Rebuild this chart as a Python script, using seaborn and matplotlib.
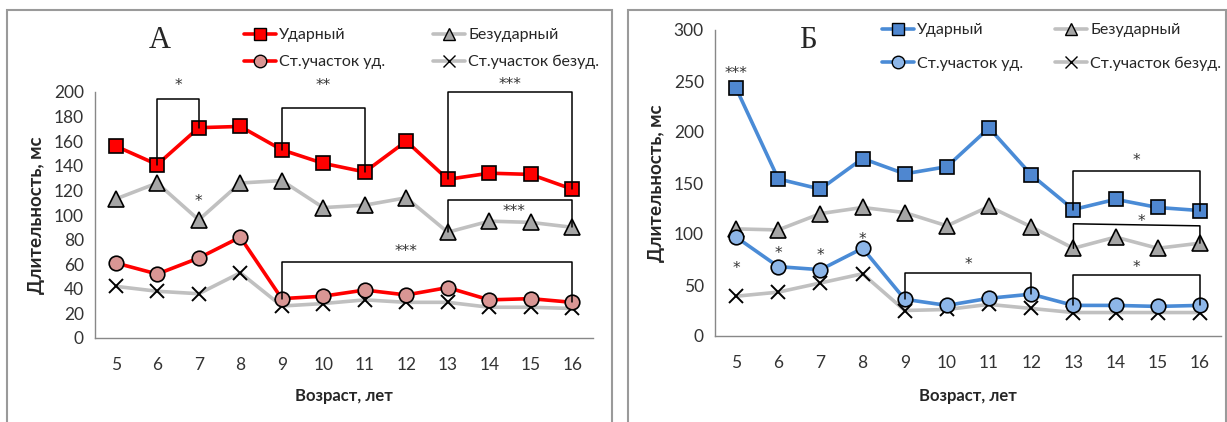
import numpy as np
import pandas as pd
import matplotlib
matplotlib.use("Agg")
import matplotlib.pyplot as plt
from matplotlib.patches import Rectangle
from matplotlib.lines import Line2D
import seaborn as sns

# ---------------- data ----------------
ages = [5, 6, 7, 8, 9, 10, 11, 12, 13, 14, 15, 16]
series_names = ["Ударный", "Безударный", "Ст.участок уд.", "Ст.участок безуд."]

a_udar = [156, 141, 171, 172, 153, 142, 135, 160, 129, 134, 133, 121]
a_bezudar = [113, 126, 96, 126, 128, 106, 108, 114, 86, 95, 94, 90]
a_st_ud = [61, 52, 65, 82, 32, 34, 39, 35, 41, 31, 32, 29]
a_st_bezud = [42, 38, 36, 53, 26, 28, 31, 29, 29, 25, 25, 24]

b_udar = [243, 154, 144, 174, 159, 166, 204, 158, 124, 134, 126, 123]
b_bezudar = [105, 104, 120, 126, 121, 108, 127, 107, 86, 97, 86, 91]
b_st_ud = [97, 68, 65, 86, 36, 30, 37, 41, 30, 30, 29, 30]
b_st_bezud = [39, 43, 52, 61, 25, 26, 31, 27, 23, 23, 23, 23]

panel_labels = ["А", "Б"]
x_label = "Возраст, лет"
y_label = "Длительность, мс"
a_yticks = [0, 20, 40, 60, 80, 100, 120, 140, 160, 180, 200]
b_yticks = [0, 50, 100, 150, 200, 250, 300]

# ---------------- style ----------------
sns.set_style("white")
plt.rcParams['font.family'] = ['Lato', 'DejaVu Sans']

fig = plt.figure(figsize=(12.27, 4.22), dpi=100)
W, H = 1227, 422

def fx(px):
    return px / W

def fy(py):
    return 1 - py / H

# panel frames
for x0, x1 in [(7, 612), (628, 1226)]:
    fig.patches.append(Rectangle((fx(x0), fy(430)), fx(x1) - fx(x0), fy(10) - fy(430),
                                 transform=fig.transFigure, fill=False,
                                 edgecolor="#9a9a9a", lw=1.5))

axA = fig.add_axes([fx(95), fy(338), fx(593) - fx(95), fy(92) - fy(338)])
axB = fig.add_axes([fx(715), fy(336), fx(1221) - fx(715), fy(30) - fy(336)])

GRAY_LINE = "#c0c0c0"
GRAY_FACE = "#a6a6a6"

def draw_panel(ax, data, main_color, sq_face, circ_face, ylim, yticks, ylab_x, xlab_y):
    udar, bezudar, st_ud, st_bezud = data
    df = pd.DataFrame({"age": ages, "udar": udar, "bezudar": bezudar,
                       "st_ud": st_ud, "st_bezud": st_bezud})
    sns.lineplot(data=df, x="age", y="st_bezud", ax=ax, color=GRAY_LINE, lw=2.6,
                 marker="x", markersize=10, markeredgecolor="black", mew=1.4, zorder=2)
    sns.lineplot(data=df, x="age", y="bezudar", ax=ax, color=GRAY_LINE, lw=2.6,
                 marker="^", markersize=11, markerfacecolor=GRAY_FACE,
                 markeredgecolor="black", mew=1.2, zorder=3)
    sns.lineplot(data=df, x="age", y="st_ud", ax=ax, color=main_color, lw=2.6,
                 marker="o", markersize=10.5, markerfacecolor=circ_face,
                 markeredgecolor="black", mew=1.2, zorder=4)
    sns.lineplot(data=df, x="age", y="udar", ax=ax, color=main_color, lw=2.6,
                 marker="s", markersize=10, markerfacecolor=sq_face,
                 markeredgecolor="black", mew=1.2, zorder=5)
    ax.set_xlim(4.5, 16.5)
    ax.set_ylim(*ylim)
    ax.set_yticks(yticks)
    ax.set_xticks(ages)
    ax.set_xticks(np.arange(4.5, 17, 1), minor=True)
    ax.tick_params(axis="x", which="major", length=0, pad=14, labelsize=12.5, labelcolor="#333333")
    ax.tick_params(axis="x", which="minor", length=5, color="#888888", direction="out")
    ax.tick_params(axis="y", length=5, color="#888888", direction="out", labelsize=12.5,
                   labelcolor="#333333", pad=3)
    for s in ["top", "right"]:
        ax.spines[s].set_visible(False)
    for s in ["left", "bottom"]:
        ax.spines[s].set_color("#888888")
        ax.spines[s].set_linewidth(1.0)
    ax.set_facecolor("none")
    ax.set_xlabel(x_label, fontsize=12, fontweight="bold")
    ax.set_ylabel(y_label, fontsize=13.5, fontweight="bold")
    ax.yaxis.set_label_coords(ylab_x, 0.5)
    ax.xaxis.set_label_coords(0.5, xlab_y)
    handles = [
        Line2D([], [], color=main_color, lw=2.6, marker="s", markersize=9,
               markerfacecolor=sq_face, markeredgecolor="black"),
        Line2D([], [], color=GRAY_LINE, lw=2.6, marker="^", markersize=9,
               markerfacecolor=GRAY_FACE, markeredgecolor="black"),
        Line2D([], [], color=main_color, lw=2.6, marker="o", markersize=9,
               markerfacecolor=circ_face, markeredgecolor="black"),
        Line2D([], [], color=GRAY_LINE, lw=2.6, marker="x", markersize=9,
               markeredgecolor="black"),
    ]
    return handles

def bracket(ax, x0, x1, y0, ytop0, ytop1, y1):
    ax.plot([x0, x0, x1, x1], [y0, ytop0, ytop1, y1], color="black", lw=1.1,
            clip_on=False, zorder=6)

def star(ax, x, y, s):
    ax.text(x, y, s, ha="center", va="center", fontsize=11, color="#333333",
            family="DejaVu Sans", clip_on=False, zorder=7)

hA = draw_panel(axA, (a_udar, a_bezudar, a_st_ud, a_st_bezud), "#ff0000", "#ff0000",
                "#d99694", (0, 200), a_yticks, -0.10, -0.205)
hB = draw_panel(axB, (b_udar, b_bezudar, b_st_ud, b_st_bezud), "#4a8bd6", "#4f87d0",
                "#8db6e8", (0, 300), b_yticks, -0.099, -0.17)

# legends (row-major order: matplotlib fills columns first)
order = [0, 2, 1, 3]
for h, anchor, cs, ls in [(hA, (fx(244), fy(28)), 3.0, 0.8),
                          (hB, (fx(882), fy(23)), 2.0, 1.2)]:
    fig.legend([h[i] for i in order], [series_names[i] for i in order], ncol=2,
               loc="upper left", bbox_to_anchor=anchor,
               frameon=False, fontsize=11.5, handlelength=2.0, handletextpad=0.2,
               columnspacing=cs, labelspacing=ls, borderaxespad=0, borderpad=0)

# panel letters
fig.text(fx(160), fy(40), panel_labels[0], fontsize=22, family="Liberation Serif",
         ha="center", va="center")
fig.text(fx(808), fy(40), panel_labels[1], fontsize=22, family="Liberation Serif",
         ha="center", va="center")

# annotations panel A
bracket(axA, 6, 7, a_udar[1], 194, 194, a_udar[2])
star(axA, 6.5, 205, "*")
bracket(axA, 9, 11, a_udar[4], 187, 187, a_udar[6])
star(axA, 10, 205, "**")
bracket(axA, 13, 16, a_udar[8], 200, 200, a_udar[11])
star(axA, 14.5, 206, "***")
bracket(axA, 13, 16, a_bezudar[8], 112, 112, a_bezudar[11])
star(axA, 14.6, 103, "***")
bracket(axA, 9, 16, a_st_ud[4], 62, 62, a_st_ud[11])
star(axA, 12, 70, "***")
star(axA, 7, 111, "*")

# annotations panel B
star(axB, 5, 257, "***")
star(axB, 5, 66, "*")
star(axB, 6, 81, "*")
star(axB, 7, 79, "*")
star(axB, 8, 95, "*")
bracket(axB, 9, 12, b_st_ud[4], 62, 62, b_st_ud[7])
star(axB, 10.5, 70, "*")
bracket(axB, 13, 16, b_udar[8], 162, 162, b_udar[11])
star(axB, 14.5, 172, "*")
bracket(axB, 13, 16, b_bezudar[8], 110, 108, b_bezudar[11])
star(axB, 14.6, 112, "*")
bracket(axB, 13, 16, b_st_ud[8], 60, 60, b_st_ud[11])
star(axB, 14.5, 67, "*")

fig.savefig("out.png", dpi=100)
